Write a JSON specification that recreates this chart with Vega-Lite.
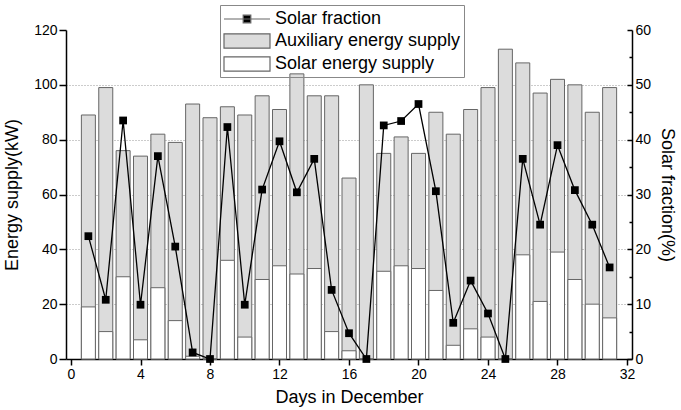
{
  "$schema": "https://vega.github.io/schema/vega-lite/v6.json",
  "width": 566,
  "height": 329,
  "autosize": {"type": "none"},
  "padding": {"left": 66, "top": 30, "right": 49, "bottom": 51},
  "background": "white",
  "config": {
    "font": "Liberation Sans",
    "view": {"stroke": null},
    "axis": {
      "domainColor": "black",
      "domainWidth": 1.5,
      "tickColor": "black",
      "tickWidth": 1.5,
      "labelColor": "black",
      "labelFontSize": 14,
      "labelFont": "Liberation Sans",
      "titleFont": "Liberation Sans",
      "titleFontSize": 18,
      "titleFontWeight": "normal",
      "titleColor": "black"
    }
  },
  "data": {
    "values": [
      {"day": 1, "total": 89, "solar": 19, "fraction": 22.4},
      {"day": 2, "total": 99, "solar": 10, "fraction": 10.8},
      {"day": 3, "total": 76, "solar": 30, "fraction": 43.5},
      {"day": 4, "total": 74, "solar": 7, "fraction": 9.9},
      {"day": 5, "total": 82, "solar": 26, "fraction": 37.0},
      {"day": 6, "total": 79, "solar": 14, "fraction": 20.5},
      {"day": 7, "total": 93, "solar": 1, "fraction": 1.2},
      {"day": 8, "total": 88, "solar": 0, "fraction": 0},
      {"day": 9, "total": 92, "solar": 36, "fraction": 42.3},
      {"day": 10, "total": 89, "solar": 8, "fraction": 9.9},
      {"day": 11, "total": 96, "solar": 29, "fraction": 30.9},
      {"day": 12, "total": 91, "solar": 34, "fraction": 39.7},
      {"day": 13, "total": 104, "solar": 31, "fraction": 30.4},
      {"day": 14, "total": 96, "solar": 33, "fraction": 36.5},
      {"day": 15, "total": 96, "solar": 10, "fraction": 12.6},
      {"day": 16, "total": 66, "solar": 3, "fraction": 4.7},
      {"day": 17, "total": 100, "solar": 0, "fraction": 0},
      {"day": 18, "total": 75, "solar": 32, "fraction": 42.6},
      {"day": 19, "total": 81, "solar": 34, "fraction": 43.4},
      {"day": 20, "total": 75, "solar": 33, "fraction": 46.5},
      {"day": 21, "total": 90, "solar": 25, "fraction": 30.6},
      {"day": 22, "total": 82, "solar": 5, "fraction": 6.6},
      {"day": 23, "total": 91, "solar": 11, "fraction": 14.3},
      {"day": 24, "total": 99, "solar": 8, "fraction": 8.3},
      {"day": 25, "total": 113, "solar": 0, "fraction": 0},
      {"day": 26, "total": 108, "solar": 38, "fraction": 36.5},
      {"day": 27, "total": 97, "solar": 21, "fraction": 24.5},
      {"day": 28, "total": 102, "solar": 39, "fraction": 39.0},
      {"day": 29, "total": 100, "solar": 29, "fraction": 30.8},
      {"day": 30, "total": 90, "solar": 20, "fraction": 24.5},
      {"day": 31, "total": 99, "solar": 15, "fraction": 16.7}
    ]
  },
  "layer": [
    {
      "layer": [
        {
          "mark": {"type": "bar", "size": 14, "stroke": "#666666", "strokeWidth": 1},
          "encoding": {
            "x": {
              "field": "day",
              "type": "quantitative",
              "scale": {"domain": [0, 32], "nice": false, "zero": false},
              "axis": {
                "title": "Days in December",
                "values": [0,1,2,3,4,5,6,7,8,9,10,11,12,13,14,15,16,17,18,19,20,21,22,23,24,25,26,27,28,29,30,31,32],
                "labelExpr": "datum.value % 2 === 0 ? datum.label : ''",
                "labelOverlap": false,
                "labelFlush": false,
                "grid": false,
                "tickSize": {"condition": {"test": "datum.value % 2 === 0", "value": 6}, "value": 3},
                "labelPadding": 2,
                "titlePadding": 7
              }
            },
            "y": {
              "field": "total",
              "type": "quantitative",
              "scale": {"domain": [0, 120], "nice": false},
              "axis": {
                "title": "Energy supply(kW)",
                "values": [0,10,20,30,40,50,60,70,80,90,100,110,120],
                "labelExpr": "datum.value % 20 === 0 ? datum.label : ''",
                "labelOverlap": false,
                "tickSize": {"condition": {"test": "datum.value % 20 === 0", "value": 7}, "value": 3},
                "grid": true,
                "gridColor": "#999999",
                "gridDash": [1, 2],
                "gridWidth": 1,
                "gridOpacity": {"condition": {"test": "datum.value % 20 === 0 && datum.value > 0 && datum.value < 120", "value": 1}, "value": 0},
                "labelPadding": 2,
                "titlePadding": 12
              }
            },
            "fill": {
              "datum": "Auxiliary energy supply",
              "type": "nominal",
              "scale": {
                "domain": ["Solar fraction", "Auxiliary energy supply", "Solar energy supply"],
                "range": ["black", "#dcdcdc", "white"]
              },
              "legend": {
                "orient": "none",
                "legendX": 154,
                "legendY": -25,
                "title": null,
                "strokeColor": "#888888",
                "padding": 3,
                "labelFontSize": 18,
                "labelFont": "Liberation Sans",
                "labelColor": "black",
                "labelLimit": 400,
                "symbolSize": 400,
                "symbolOffset": 13,
                "labelOffset": 17,
                "rowPadding": 2,
                "symbolType": {"expr": "datum.value === 'Solar fraction' ? 'M-2.3,0H2.3M-0.38,-0.38H0.38V0.38H-0.38Z' : 'M-2.3,-0.72H2.3V0.72H-2.3Z'"},
                "symbolStrokeColor": {"expr": "datum.value === 'Solar fraction' ? 'black' : '#666666'"},
                "symbolStrokeWidth": 1.2
              }
            }
          }
        },
        {
          "mark": {"type": "bar", "size": 14, "stroke": "#666666", "strokeWidth": 1},
          "encoding": {
            "x": {"field": "day", "type": "quantitative"},
            "y": {"field": "solar", "type": "quantitative"},
            "fill": {"datum": "Solar energy supply", "type": "nominal"}
          }
        }
      ]
    },
    {
      "mark": {
        "type": "line",
        "color": "black",
        "strokeWidth": 1.3,
        "clip": false,
        "point": {"shape": "square", "size": 60, "filled": true, "color": "black", "opacity": 1}
      },
      "encoding": {
        "x": {"field": "day", "type": "quantitative"},
        "y": {
          "field": "fraction",
          "type": "quantitative",
          "scale": {"domain": [0, 60], "nice": false},
          "axis": {
            "orient": "right",
            "title": "Solar fraction(%)",
            "values": [0,5,10,15,20,25,30,35,40,45,50,55,60],
            "labelExpr": "datum.value % 10 === 0 ? datum.label : ''",
            "labelOverlap": false,
            "grid": false,
            "tickSize": {"condition": {"test": "datum.value % 10 === 0", "value": -5}, "value": -3},
            "labelPadding": 8,
            "titlePadding": 7
          }
        }
      }
    }
  ],
  "resolve": {"scale": {"y": "independent"}}
}
